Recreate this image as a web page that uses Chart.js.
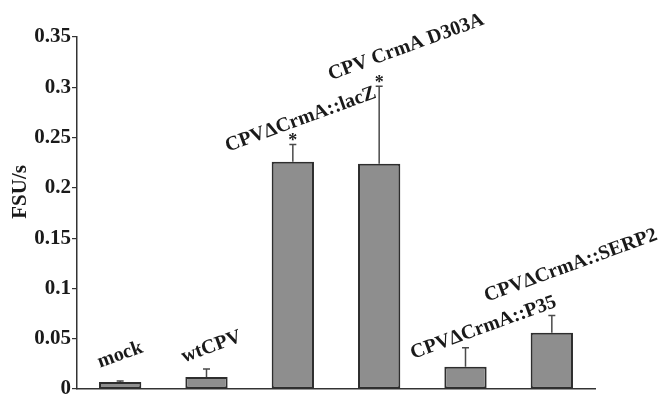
<!DOCTYPE html>
<html>
<head>
<meta charset="utf-8">
<script src="https://cdn.jsdelivr.net/npm/chart.js@4"></script>
<style>
  html, body { margin: 0; padding: 0; background: #fff; }
  #wrap { width: 664px; height: 411px; }
</style>
</head>
<body>
<div id="wrap"><canvas id="c" width="664" height="411"></canvas></div>
<script>
// Caspase activity (FSU/s) per infection condition
const categories = ["mock", "wtCPV", "CPV\u0394CrmA::lacZ", "CPV CrmA D303A", "CPV\u0394CrmA::P35", "CPV\u0394CrmA::SERP2"];
const activity = [0.007, 0.012, 0.226, 0.224, 0.022, 0.056];
const errorUp = [0.001, 0.008, 0.017, 0.077, 0.019, 0.017];
const significant = [false, false, true, true, false, false];
const yTicks = [0, 0.05, 0.1, 0.15, 0.2, 0.25, 0.3, 0.35];
const yTitle = 'FSU/s';

// label placement relative to the top of each error bar (dx, dy in px)
const labelShift = [[0, -26], [5, -22], [8, -25], [27, -39], [18, -20], [19, -50]];

const SERIF = "'Liberation Serif', 'Times New Roman', serif";

const annotate = {
  id: 'annotate',
  afterDatasetsDraw(chart) {
    const ctx = chart.ctx;
    const meta = chart.getDatasetMeta(0);
    const y = chart.scales.y;
    ctx.save();
    meta.data.forEach((bar, i) => {
      const x = bar.x;
      const yVal = y.getPixelForValue(activity[i]);
      const yTop = y.getPixelForValue(activity[i] + errorUp[i]);
      // upper error whisker with cap
      ctx.strokeStyle = '#4a4a4a';
      ctx.lineWidth = 1.5;
      ctx.beginPath();
      ctx.moveTo(x, yVal);
      ctx.lineTo(x, yTop);
      ctx.moveTo(x - 3.5, yTop);
      ctx.lineTo(x + 3.5, yTop);
      ctx.stroke();
      // significance marker
      if (significant[i]) {
        ctx.fillStyle = '#222';
        ctx.font = 'bold 18px ' + SERIF;
        ctx.textAlign = 'center';
        ctx.textBaseline = 'middle';
        ctx.fillText('*', x, yTop - 3);
      }
      // rotated category label
      const [dx, dy] = labelShift[i];
      ctx.save();
      ctx.translate(x + dx, yTop + dy);
      ctx.rotate(-20 * Math.PI / 180);
      ctx.fillStyle = '#1a1a1a';
      ctx.font = 'bold 20px ' + SERIF;
      ctx.textAlign = 'center';
      ctx.textBaseline = 'middle';
      ctx.fillText(categories[i], 0, 0);
      ctx.restore();
    });
    // vertical axis title, set a little above the plot's middle
    const area = chart.chartArea;
    ctx.save();
    ctx.translate(21, area.top + (area.bottom - area.top) * 0.44);
    ctx.rotate(-Math.PI / 2);
    ctx.fillStyle = '#1a1a1a';
    ctx.font = 'bold 21px ' + SERIF;
    ctx.textAlign = 'center';
    ctx.textBaseline = 'middle';
    ctx.fillText(yTitle, 0, 0);
    ctx.restore();
    ctx.restore();
  }
};

new Chart(document.getElementById('c'), {
  type: 'bar',
  data: {
    labels: categories,
    datasets: [{
      data: activity,
      backgroundColor: '#8e8e8e',
      borderColor: '#2e2e2e',
      borderWidth: 2,
      borderSkipped: false,
      barPercentage: 0.49,
      categoryPercentage: 1
    }]
  },
  options: {
    responsive: false,
    animation: false,
    devicePixelRatio: 1,
    layout: { padding: { left: 0, top: 37, right: 69, bottom: 0 } },
    plugins: { legend: { display: false }, tooltip: { enabled: false } },
    scales: {
      x: {
        grid: { display: false, drawTicks: false },
        border: { display: true, color: '#333', width: 1.5 },
        ticks: { display: false },
        afterFit(scale) { scale.height = 22; }
      },
      y: {
        min: 0,
        max: 0.35,
        afterBuildTicks(scale) { scale.ticks = yTicks.map(v => ({ value: v })); },
        grid: { drawOnChartArea: false, drawTicks: true, tickLength: 5, color: '#333', lineWidth: 1.2 },
        border: { display: true, color: '#333', width: 1.5 },
        ticks: {
          padding: 1,
          color: '#1a1a1a',
          font: { family: SERIF, size: 21, weight: 'bold' },
          callback: v => String(+Number(v).toFixed(2))
        },
        afterFit(scale) { scale.width = 77; }
      }
    }
  },
  plugins: [annotate]
});
</script>
</body>
</html>
